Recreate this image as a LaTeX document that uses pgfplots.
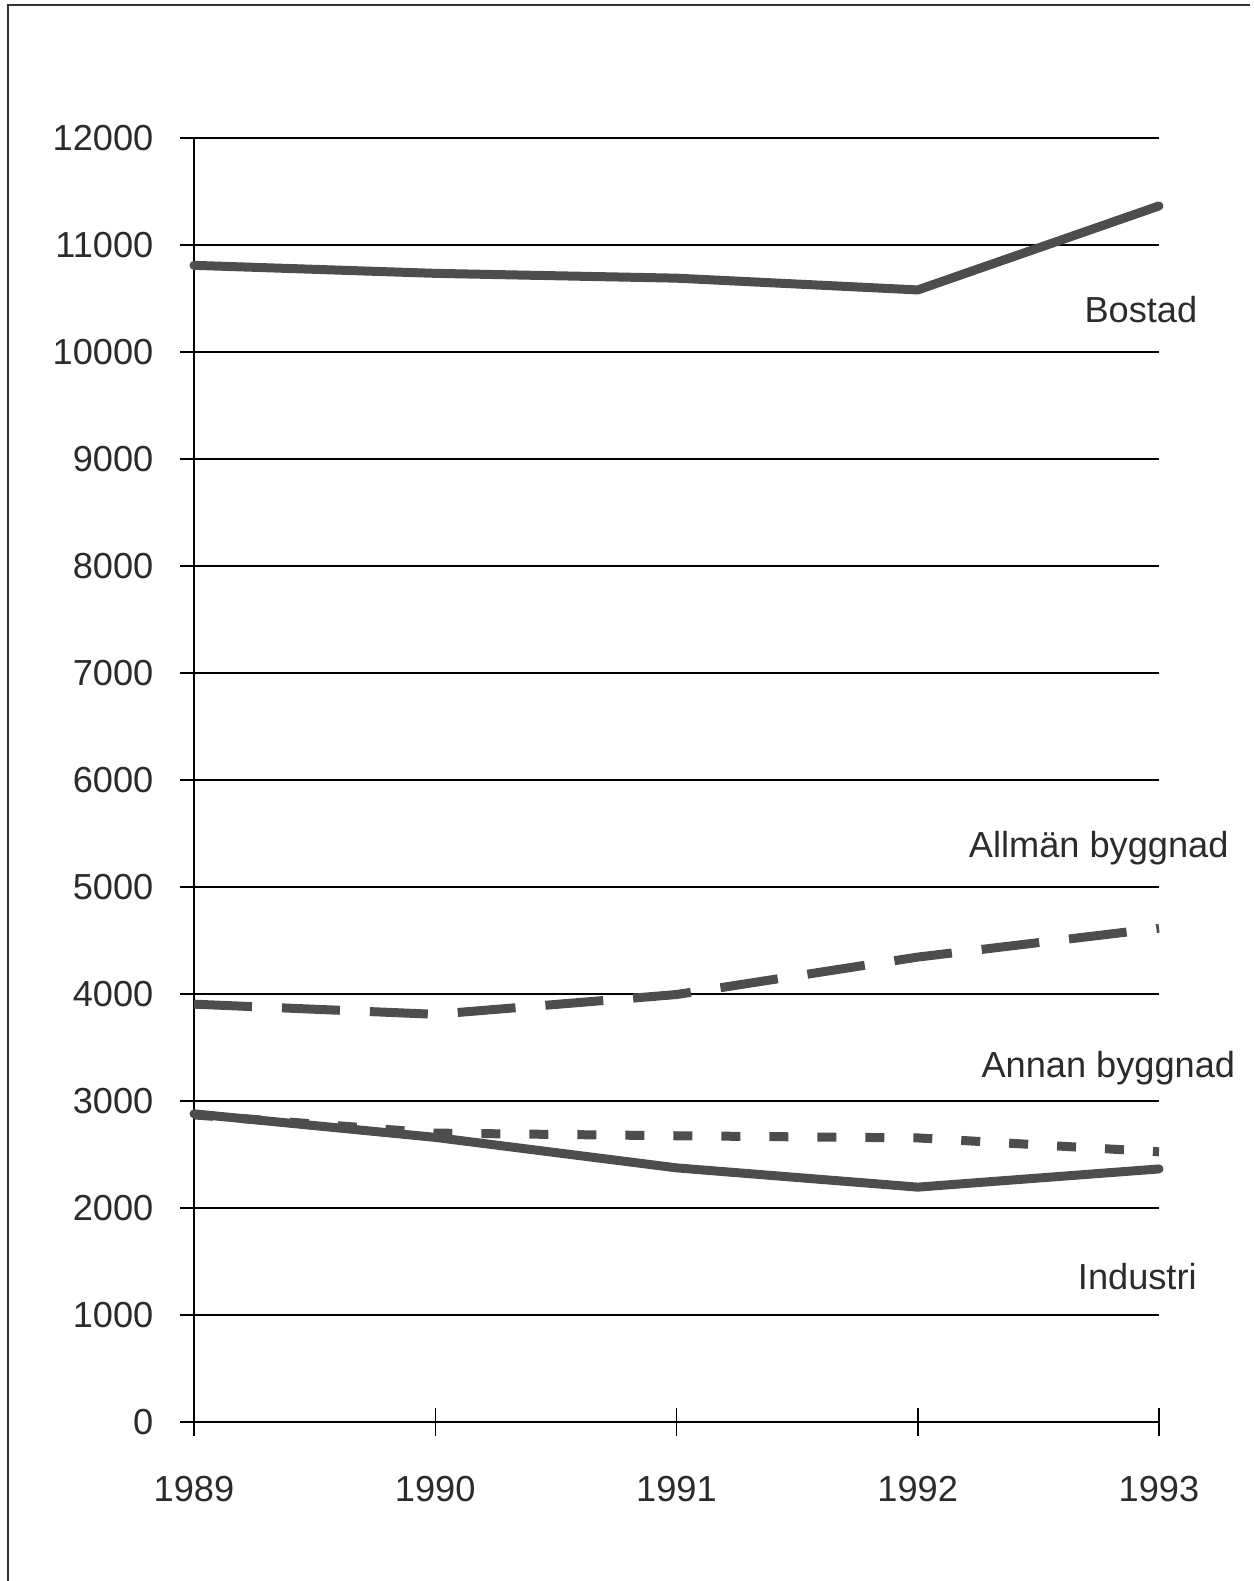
\documentclass[border=0pt]{standalone}
\usepackage{pgfplots}
\pgfplotsset{compat=1.18}
\usepackage{fontspec}
\setmainfont{Liberation Sans}
\definecolor{ink}{HTML}{4D4D4D}
\definecolor{txt}{HTML}{2B2B2B}

\begin{document}
\fontsize{10.3}{12.4}\selectfont
\begin{tikzpicture}
\useasboundingbox (0,0) rectangle (125.4mm,158.1mm);
% frame (only left and top edges survive in the scan)
\draw[line width=0.2mm, black!80] (0.8mm,0) -- (0.8mm,157.6mm) -- (125.0mm,157.6mm);
\begin{axis}[
  at={(19.4mm,15.9mm)}, anchor=south west,
  scale only axis, width=96.5mm, height=128.4mm,
  xmin=1989, xmax=1993, ymin=0, ymax=12000,
  axis x line=bottom, axis y line=left,
  axis line style={-, line width=0.15mm, black},
  xtick={1989,1990,1991,1992,1993},
  ytick={0,1000,...,12000},
  scaled y ticks=false, scaled x ticks=false,
  ymajorgrids, major grid style={line width=0.15mm, black},
  tick align=center, major tick length=2.8mm,
  tick style={line width=0.15mm, black},
  /pgf/number format/.cd, fixed, precision=0, use comma=false, 1000 sep={}, assume math mode=true,
  /pgfplots/.cd,
  ticklabel style={font=\fontsize{10.3}{12}\selectfont, text=txt},
  yticklabel style={anchor=east, inner sep=0pt},
  xticklabel style={anchor=north, inner sep=0pt},
  yticklabel shift=2.6mm,
  xticklabel shift=4.0mm,
  clip=false,
]
% Bostad
\addplot[ink, line width=0.9mm, line cap=round, line join=round] coordinates {
  (1989,10810) (1990,10735) (1991,10690) (1992,10580) (1993,11365)};
% Allmän byggnad
\addplot[ink, line width=0.9mm, dash pattern=on 5.8mm off 3mm] coordinates {
  (1989,3905) (1990,3810) (1991,3995) (1992,4345) (1993,4615)};
% Annan byggnad
\addplot[ink, line width=0.9mm, dash pattern=on 1.9mm off 2.9mm] coordinates {
  (1989,2870) (1990,2700) (1991,2675) (1992,2655) (1993,2525)};
% Industri
\addplot[ink, line width=0.9mm, line cap=round, line join=round] coordinates {
  (1989,2880) (1990,2660) (1991,2375) (1992,2195) (1993,2365)};

\node[anchor=base, text=txt] at (axis cs:1992.925,10271) {Bostad};
\node[anchor=base, text=txt] at (axis cs:1992.75,5280) {Allmän byggnad};
\node[anchor=base, text=txt] at (axis cs:1992.79,3224) {Annan byggnad};
\node[anchor=base, text=txt] at (axis cs:1992.91,1234) {Industri};
\end{axis}
\end{tikzpicture}
\end{document}
